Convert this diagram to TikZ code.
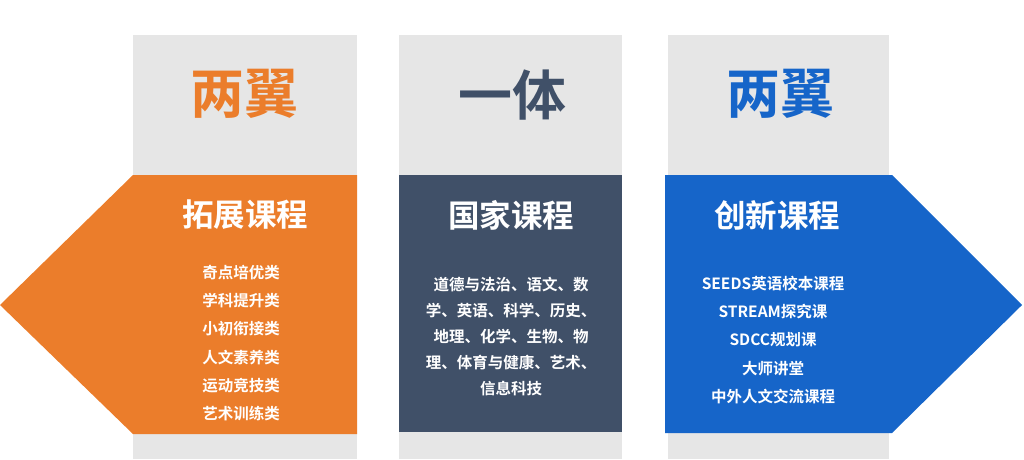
\documentclass[tikz,border=0pt]{standalone}
\usepackage{fontspec}
\newfontfamily\cjk{Noto Sans CJK SC}[BoldFont={Noto Sans CJK SC Bold}]
\definecolor{bggrey}{HTML}{E6E6E6}
\definecolor{orng}{HTML}{EB7D2B}
\definecolor{slate}{HTML}{405068}
\definecolor{blu}{HTML}{1665C9}
\tikzset{
  bigtitle/.style={font=\cjk\bfseries\fontsize{54}{60}\selectfont, inner sep=0pt},
  subtitle/.style={font=\cjk\bfseries\fontsize{31.5}{36}\selectfont, text=white, inner sep=0pt},
  item/.style={font=\cjk\bfseries\fontsize{15.5}{18}\selectfont, text=white, inner sep=0pt},
}
\begin{document}
\begin{tikzpicture}[x=1pt,y=-1pt]
\useasboundingbox (0,0) rectangle (1024,459);
\fill[white] (0,0) rectangle (1024,459);
% grey columns
\fill[bggrey] (133,35) rectangle (357,459);
\fill[bggrey] (399,35) rectangle (622,459);
\fill[bggrey] (668,35) rectangle (889,459);
% coloured panels
\fill[orng] (0,305) -- (133,175) -- (357,175) -- (357,434) -- (133,434) -- cycle;
\fill[slate] (399,175) rectangle (622,432);
\fill[blu] (665,175) -- (892,175) -- (1022,305) -- (892,433) -- (665,433) -- cycle;
% titles
\node[bigtitle, text=orng] (t1) at (244,94) {两翼};
\node[bigtitle, text=slate] (t2) at (512,95) {一体};
\node[bigtitle, text=blu] (t3) at (780,94) {两翼};
\node[subtitle] (s1) at (245,215) {拓展课程};
\node[subtitle] (s2) at (511,215) {国家课程};
\node[subtitle] (s3) at (777,215) {创新课程};
% left list
\node[item, align=center] (l1) at (241,343) {奇点培优类\\[10.2pt]学科提升类\\[10.2pt]小初衔接类\\[10.2pt]人文素养类\\[10.2pt]运动竞技类\\[10.2pt]艺术训练类};
% middle text
\node[item, align=center] (m1) at (511,337) {道德与法治、语文、数\\[8pt]学、英语、科学、历史、\\[8pt]地理、化学、生物、物\\[8pt]理、体育与健康、艺术、\\[8pt]信息科技};
% right list
\node[item, align=center] (r1) at (773,340) {SEEDS英语校本课程\\[10.2pt]STREAM探究课\\[10.2pt]SDCC规划课\\[10.2pt]大师讲堂\\[10.2pt]中外人文交流课程};
\end{tikzpicture}
\end{document}
